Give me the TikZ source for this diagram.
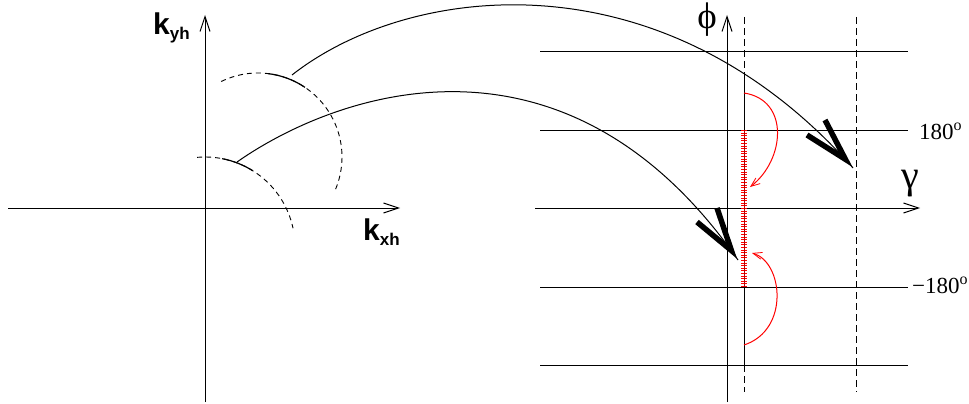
\documentclass[tikz,border=0pt]{standalone}
\usepackage{fontspec}
\setmainfont{Liberation Serif}
\newfontfamily\hsans{Liberation Sans}
\usetikzlibrary{arrows.meta}
\begin{document}
\begin{tikzpicture}[x=1pt,y=-1pt,
  axis/.style={line width=1pt,-{Straight Barb[length=15pt,width=10pt,line width=1pt]}},
  hline/.style={line width=1pt},
  vdash/.style={line width=1pt,dash pattern=on 7pt off 4pt},
  adash/.style={line width=0.9pt,dash pattern=on 5pt off 4pt},
  solidarc/.style={line width=1.2pt},
  link/.style={line width=1pt},
  bigtip/.style={line width=5.5pt,line join=miter,line cap=butt},
  redarc/.style={red,line width=1pt,-{Straight Barb[length=9pt,width=7pt,line width=0.8pt]}},
  klabel/.style={inner sep=0pt,anchor=base west,font=\hsans\bfseries\fontsize{30}{30}\selectfont},
  slabel/.style={inner sep=0pt,anchor=base west,font=\fontsize{23}{23}\selectfont},
  glabel/.style={inner sep=0pt}]
\useasboundingbox (0,0) rectangle (969,404);

% ---------- left axes ----------
\coordinate (lyb) at (205,402);
\coordinate (lyt) at (205,15);
\coordinate (lxl) at (8,208);
\coordinate (lxr) at (400,208);
\draw[axis] (lyb) -- (lyt);
\draw[axis] (lxl) -- (lxr);
\node[klabel] (kyh) at (153,35) {k\raisebox{-5pt}{\fontsize{17}{17}\selectfont yh}};
\node[klabel] (kxh) at (363,240) {k\raisebox{-5pt}{\fontsize{17}{17}\selectfont xh}};

% small dashed arc (centre 205,247; r 90)
\coordinate (c1) at (205,247);
\draw[adash] (c1) ++(-95:90) arc[start angle=-95,end angle=-12,radius=90];
\draw[solidarc] (c1) ++(-79:90) arc[start angle=-79,end angle=-58,radius=90];
% large dashed arc (centre 258,157; r 84)
\coordinate (c2) at (258,157);
\draw[adash] (c2) ++(-116:84) arc[start angle=-116,end angle=25,radius=84];
\draw[solidarc] (c2) ++(-83:84) arc[start angle=-83,end angle=-56,radius=84];

% ---------- right axes ----------
\coordinate (ryb) at (727,402);
\coordinate (ryt) at (727,15);
\coordinate (rxl) at (535,208);
\coordinate (rxr) at (920,208);
\foreach \yy in {52,130,287,365}{
  \draw[hline] (540,\yy) -- (908,\yy);
}
\draw[axis] (rxl) -- (rxr);
\draw[axis] (ryb) -- (ryt);

% dashed verticals
\coordinate (d1t) at (744,17);
\coordinate (d1a) at (744,75);
\coordinate (d1b) at (744,365);
\coordinate (d1e) at (744,392);
\draw[vdash] (d1t) -- (d1a);
\draw[hline] (d1a) -- (d1b);
\draw[vdash] (d1b) -- (d1e);
\coordinate (d2t) at (856,17);
\coordinate (d2e) at (856,392);
\draw[vdash] (d2t) -- (d2e);

% red hatched segment
\coordinate (ha) at (744,130);
\coordinate (hb) at (744,287);
\draw[red,line width=6pt,dash pattern=on 1pt off 1.6pt] (ha) -- (hb);
\draw[red!70!black,line width=0.8pt] (ha) -- (hb);

% red arcs
\coordinate (ra0) at (744,93);
\coordinate (ra1) at (750,187);
\draw[redarc] (ra0) .. controls (790,100) and (785,160) .. (ra1);
\coordinate (rb0) at (744,345);
\coordinate (rb1) at (752,253);
\draw[redarc] (rb0) .. controls (790,330) and (783,262) .. (rb1);

% labels right
\node[glabel] (phi) at (707,20) {\fontsize{37}{37}\selectfont ϕ};
\node[glabel] (gam) at (910,184) {\fontsize{40}{40}\selectfont γ};
\node[slabel] (p180) at (919,139) {180\raisebox{9pt}{\fontsize{16}{16}\selectfont o}};
\node[slabel] (m180) at (912,293) {−180\raisebox{9pt}{\fontsize{16}{16}\selectfont o}};

% ---------- long connectors ----------
\coordinate (u0) at (292,75);
\coordinate (u1) at (853,168);
\draw[link] (u0) .. controls (409,-17) and (662,-48) .. (u1);
\coordinate (ub1) at (807,135);
\coordinate (ub2) at (825,120);
\coordinate (uv) at (845.4,159.3);
\draw[bigtip] (ub1) -- (uv) -- (ub2);

\coordinate (w0) at (237,162);
\coordinate (w1) at (738,260);
\draw[link] (w0) .. controls (337,92) and (565,12) .. (w1);
\coordinate (wb1) at (697,222);
\coordinate (wb2) at (717,208);
\coordinate (wv) at (731.4,250.5);
\draw[bigtip] (wb1) -- (wv) -- (wb2);
\end{tikzpicture}
\end{document}
